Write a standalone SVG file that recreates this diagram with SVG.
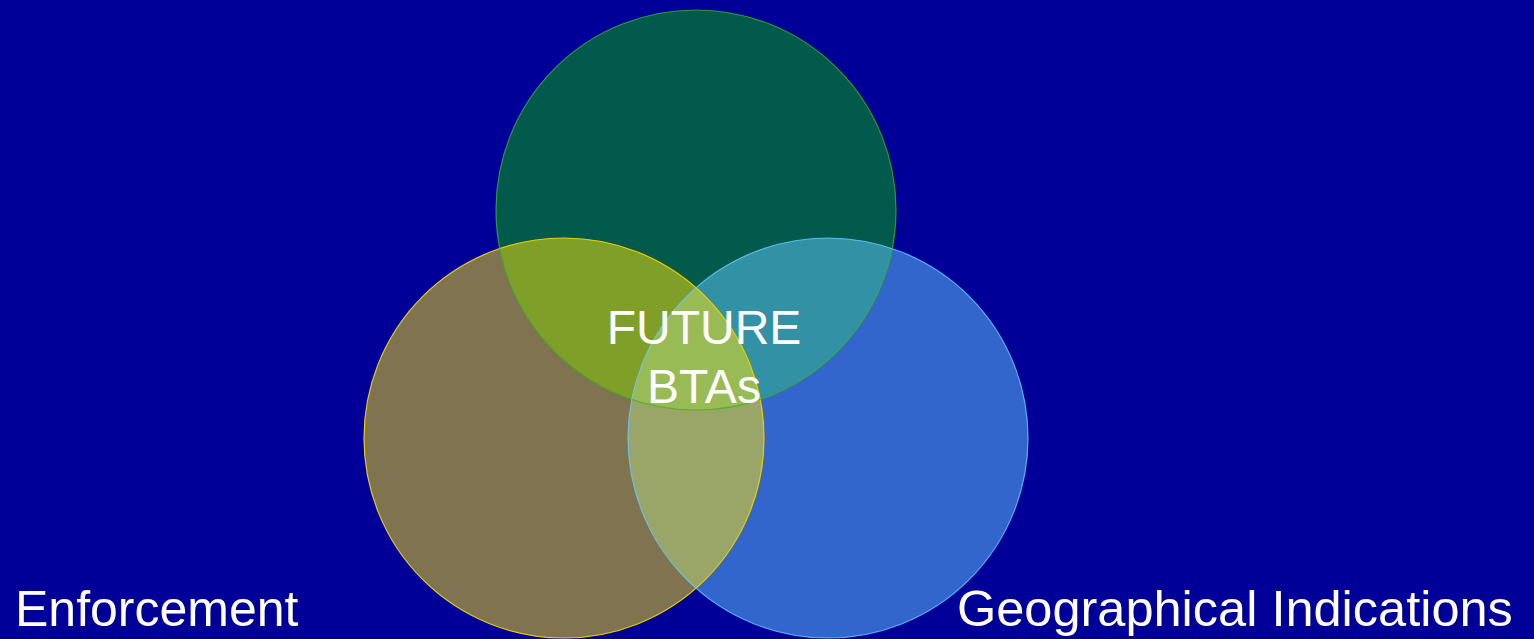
<svg xmlns="http://www.w3.org/2000/svg" width="1534" height="639" viewBox="0 0 1534 639">
<style>
.lbl{font-family:"Liberation Sans",Arial,sans-serif;fill:#ffffff;font-size:48px}
</style>
<defs>
<clipPath id="cL"><circle cx="564" cy="438" r="200"/></clipPath>
<clipPath id="cT"><circle cx="696" cy="210" r="200"/></clipPath>
<clipPath id="cR"><circle cx="828" cy="438" r="200"/></clipPath>
</defs>
<rect width="1534" height="639" fill="#000099"/>
<g id="circle-left"><circle cx="564" cy="438" r="200" fill="#7F7350"/></g>
<g id="circle-top"><circle cx="696" cy="210" r="200" fill="#025A4C"/></g>
<g id="circle-right"><circle cx="828" cy="438" r="200" fill="#3366CC"/></g>
<g id="overlaps">
<g clip-path="url(#cL)"><circle cx="696" cy="210" r="200" fill="#809F29"/></g>
<g clip-path="url(#cT)"><circle cx="828" cy="438" r="200" fill="#3391A6"/></g>
<g clip-path="url(#cL)"><circle cx="828" cy="438" r="200" fill="#99A667"/></g>
<g clip-path="url(#cL)"><g clip-path="url(#cT)"><circle cx="828" cy="438" r="200" fill="#99BB55"/></g></g>
</g>
<g id="outlines" fill="none" stroke-width="1.2">
<circle cx="564" cy="438" r="200" stroke="#E8D000"/>
<circle cx="696" cy="210" r="200" stroke="#3CB41E" stroke-opacity="0.8"/>
<circle cx="828" cy="438" r="200" stroke="#66CCFF" stroke-opacity="0.8"/>
</g>
<g id="center-label">
<text class="lbl" x="704" y="344" text-anchor="middle">FUTURE</text>
<text class="lbl" x="704" y="403" text-anchor="middle">BTAs</text>
</g>
<g id="label-enforcement"><text class="lbl" x="15" y="626" style="font-size:50px">Enforcement</text></g>
<g id="label-gi"><text class="lbl" x="957" y="626" style="font-size:50.5px">Geographical Indications</text></g>
</svg>
